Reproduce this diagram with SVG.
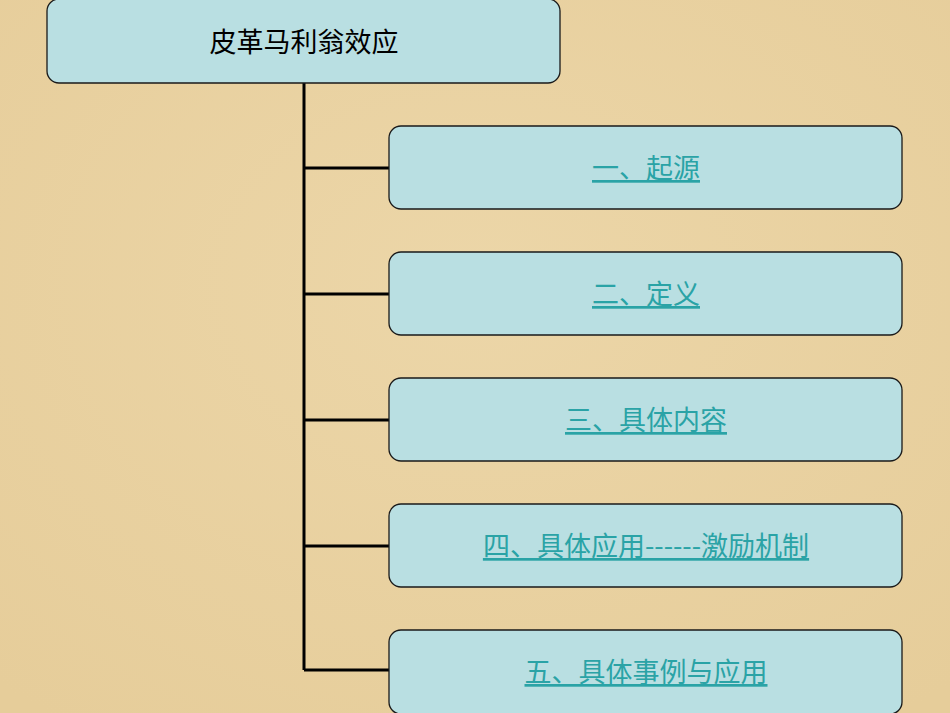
<svg xmlns="http://www.w3.org/2000/svg" width="950" height="713" viewBox="0 0 950 713">
<defs>
<radialGradient id="bg" cx="50%" cy="40%" r="75%">
<stop offset="0" stop-color="#ecd6a8"/><stop offset="1" stop-color="#e6cd9a"/>
</radialGradient>
</defs>
<style>
.box{fill:#b9dfe2;stroke:#1a1a1a;stroke-width:1.3}
.t{font-family:"Noto Sans CJK SC",sans-serif;font-size:27px;text-anchor:middle}
.lk{fill:#2aa3a6;text-decoration:underline}
.ln{stroke:#000;stroke-width:3;fill:none}
</style>
<rect width="950" height="713" fill="url(#bg)"/>
<g id="connectors">
<path class="ln" d="M304 83V670M304 168H389M304 294H389M304 420H389M304 546H389M304 670H389"/>
</g>
<g id="root"><rect class="box" x="47" y="-1" width="513" height="84" rx="12"/><text class="t" x="304" y="52">皮革马利翁效应</text></g>
<g id="n1"><rect class="box" x="389" y="126" width="513" height="83" rx="12"/><text class="t lk" x="646" y="178">一、起源</text></g>
<g id="n2"><rect class="box" x="389" y="252" width="513" height="83" rx="12"/><text class="t lk" x="646" y="304">二、定义</text></g>
<g id="n3"><rect class="box" x="389" y="378" width="513" height="83" rx="12"/><text class="t lk" x="646" y="430">三、具体内容</text></g>
<g id="n4"><rect class="box" x="389" y="504" width="513" height="83" rx="12"/><text class="t lk" x="646" y="556">四、具体应用------激励机制</text></g>
<g id="n5"><rect class="box" x="389" y="630" width="513" height="84" rx="12"/><text class="t lk" x="646" y="682">五、具体事例与应用</text></g>
</svg>
